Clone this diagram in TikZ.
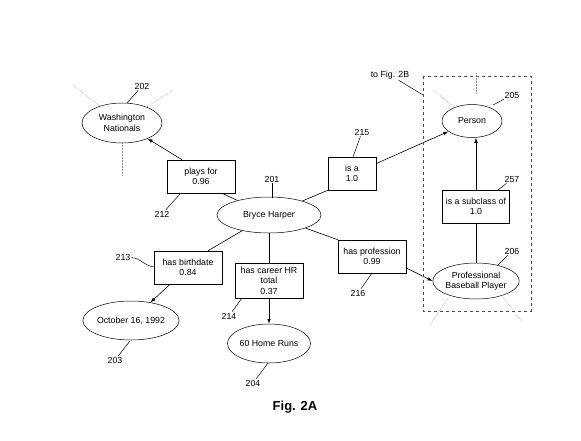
\documentclass[tikz,border=0pt]{standalone}
\usepackage{fontspec}
\setmainfont{Liberation Sans}
\usetikzlibrary{shapes.geometric,arrows.meta}
\begin{document}
\begin{tikzpicture}[x=1pt,y=-1pt,
 every node/.style={font=\fontsize{8.8}{10.5}\selectfont},
 ell/.style={draw,ellipse,inner sep=0pt,align=center,line width=0.5pt},
 box/.style={draw,rectangle,inner sep=0pt,align=center,line width=0.6pt},
 lbl/.style={inner sep=1pt},
 con/.style={line width=0.6pt},
 arr/.style={con,-{Latex[length=5pt,width=3.6pt]}},
 ray/.style={black!45,densely dotted,line width=0.5pt},
 lead/.style={line width=0.5pt}]
\useasboundingbox (0,0) rectangle (581,440);

% ellipses
\node[ell,minimum width=80pt,minimum height=40pt] (wn) at (122,123) {Washington\\Nationals};
\node[ell,minimum width=104pt,minimum height=36pt] (bh) at (269,215) {Bryce Harper};
\node[ell,minimum width=60pt,minimum height=33pt] (pe) at (472,121) {Person};
\node[ell,minimum width=81pt,minimum height=36pt] (pbp) at (476,281) {Professional\\Baseball Player};
\node[ell,minimum width=82pt,minimum height=39pt] (oct) at (131,320.5) {October 16, 1992};
\node[ell,minimum width=80pt,minimum height=39pt] (hrn) at (269,343.5) {60 Home Runs};

% boxes
\node[box,minimum width=68pt,minimum height=33pt] (pf) at (201,176.5) {plays for\\0.96};
\node[box,minimum width=48pt,minimum height=33pt] (isa) at (352,173.5) {is a\\1.0};
\node[box,minimum width=67pt,minimum height=33pt] (sub) at (476,206.5) {is a subclass of\\1.0};
\node[box,minimum width=68pt,minimum height=33pt] (hp) at (372,256.5) {has profession\\0.99};
\node[box,minimum width=68pt,minimum height=33pt] (hb) at (188,267.5) {has birthdate\\0.84};
\node[box,minimum width=68pt,minimum height=35pt] (hr) at (269,280.5) {has career HR\\total\\0.37};

% connectors
\draw[arr] ([xshift=-19pt]pf.north) -- (wn);
\draw[con] ([xshift=21pt]pf.south) -- (bh);
\draw[con] (bh) -- (isa.south west);
\draw[arr] ([yshift=10pt]isa.east) -- (pe);
\draw[con] (bh) -- (hp.north west);
\draw[arr] ([yshift=-11.5pt]hp.east) -- (pbp.west);
\draw[con] (bh) -- ([xshift=20pt]hb.north);
\draw[arr] ([xshift=-18pt]hb.south) -- (oct);
\draw[con] (bh.south) -- (hr.north);
\draw[arr] (hr.south) -- (hrn.north);
\draw[arr] (sub.north) -- (sub.north |- pe.south);
\draw[con] (sub.south) -- (pbp.north);

% rays (dotted)
\coordinate (r1) at (73,85);
\coordinate (r2) at (173,90);
\coordinate (r3) at (122,175);
\draw[ray] (r1) -- (wn);
\draw[ray] (r2) -- (wn);
\draw[ray] (r3) -- (wn.south);
\coordinate (r4) at (433,90);
\coordinate (r5a) at (476,73);
\coordinate (r5b) at (476,93);
\draw[ray] (r4) -- (pe);
\draw[ray] (r5a) -- (r5b);
\coordinate (r6a) at (448,298);
\coordinate (r6b) at (430,325);
\coordinate (r7a) at (503,297);
\coordinate (r7b) at (522,322);
\draw[ray] (r6a) -- (r6b);
\draw[ray] (r7a) -- (r7b);

% dashed group box
\draw[dashed,black!70,line width=0.6pt] (423,76) rectangle (531,311);

% reference labels
\node[lbl] (l202) at (142,86) {202};
\node[lbl] (l201) at (272,179) {201};
\node[lbl] (l212) at (162,214) {212};
\node[lbl] (l215) at (362,132) {215};
\node[lbl] (l205) at (512,95) {205};
\node[lbl] (l257) at (512,179) {257};
\node[lbl] (l206) at (512,251) {206};
\node[lbl] (l216) at (358,293) {216};
\node[lbl] (l213) at (123,257) {213};
\node[lbl] (l203) at (115,360) {203};
\node[lbl] (l214) at (229,316) {214};
\node[lbl] (l204) at (253,383) {204};
\node[lbl] (l2b) at (390,75) {to Fig. 2B};

\coordinate (c202) at (127,103);
\coordinate (c201) at (272,198);
\coordinate (c212) at (180,194);
\coordinate (c215) at (353,157);
\coordinate (c205) at (493,105);
\coordinate (c257) at (498,190);
\coordinate (c206) at (498,265);
\coordinate (c216) at (372,273);
\coordinate (c213) at (154,267);
\coordinate (c203) at (130,341);
\coordinate (c214) at (242,298);
\coordinate (c204) at (268,363);
\coordinate (c2b) at (423,95);

\draw[lead] (c202) -- (l202);
\draw[lead] (c201) -- (l201);
\draw[lead] (c212) -- (l212);
\draw[lead] (c215) -- (l215);
\draw[lead] (c205) -- (l205);
\draw[lead] (c257) -- (l257);
\draw[lead] (c206) -- (l206);
\draw[lead] (c216) -- (l216);
\draw[lead] (c213) .. controls (145,266) and (140,258) .. (l213);
\draw[lead] (c203) -- (l203);
\draw[lead] (c214) -- (l214);
\draw[lead] (c204) -- (l204);
\draw[lead] (c2b) -- (l2b);

\node[font=\fontsize{13}{15}\selectfont\bfseries] (fig) at (295,407) {Fig. 2A};
\end{tikzpicture}
\end{document}
